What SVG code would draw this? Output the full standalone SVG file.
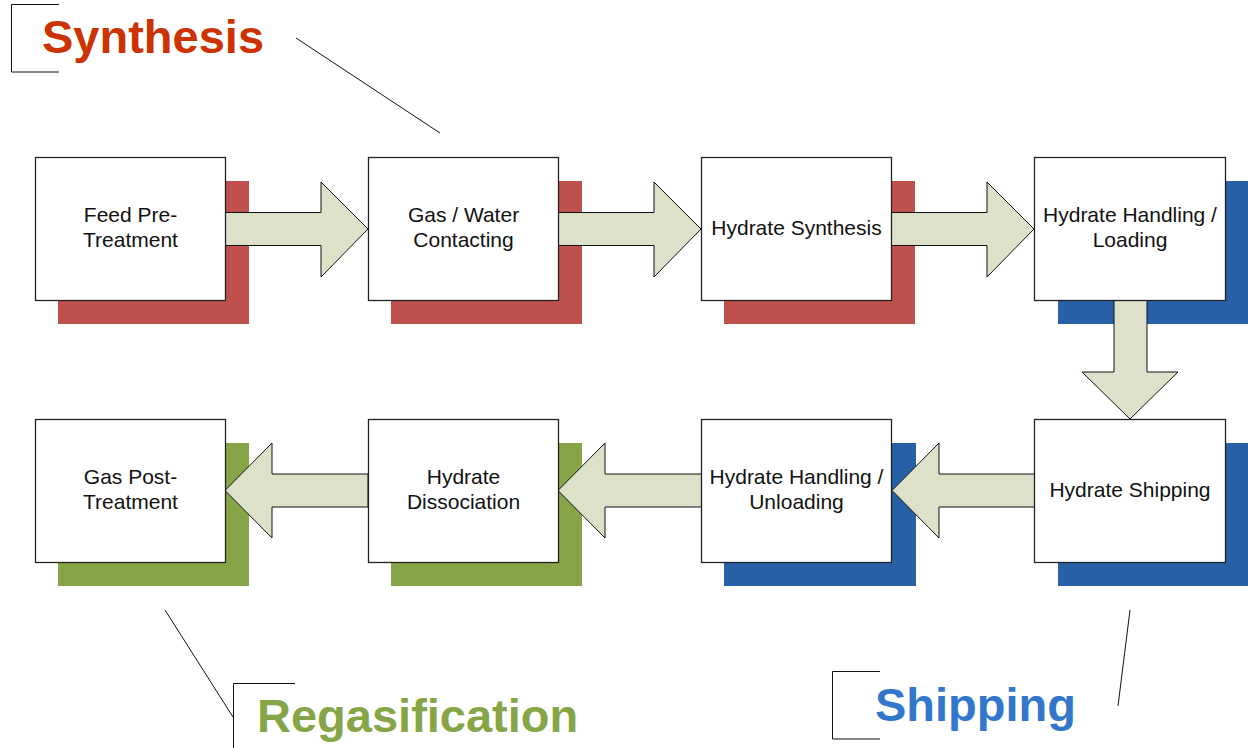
<svg xmlns="http://www.w3.org/2000/svg" width="1248" height="748" viewBox="0 0 1248 748">
<style>
.box{fill:#fff;stroke:#222;stroke-width:1.3}
.arr{fill:#DDE1CA;stroke:#111;stroke-width:1}
.red{fill:#C0504D}.blue{fill:#2860A8}.green{fill:#86A546}
.t{font-family:"Liberation Sans",Arial,sans-serif;font-size:21px;fill:#111;text-anchor:middle}
.h{font-family:"Liberation Sans",Arial,sans-serif;font-size:47px;font-weight:bold}
.ln{stroke:#111;stroke-width:1;fill:none}
</style>
<rect width="1248" height="748" fill="#fff"/>
<g id="shadows">
<rect class="red" x="58" y="181" width="191" height="143"/>
<rect class="red" x="391" y="181" width="191" height="143"/>
<rect class="red" x="724" y="181" width="191" height="143"/>
<rect class="blue" x="1058" y="181" width="191" height="143"/>
<rect class="green" x="58" y="443" width="191" height="143"/>
<rect class="green" x="391" y="443" width="191" height="143"/>
<rect class="blue" x="724" y="443" width="192" height="143"/>
<rect class="blue" x="1058" y="443" width="191" height="143"/>
</g>
<g id="connectors">
<polygon class="arr" points="225,212.5 321,212.5 321,182 368,229 321,277 321,245.5 225,245.5"/>
<polygon class="arr" points="558,212.5 654,212.5 654,182 701,229 654,277 654,245.5 558,245.5"/>
<polygon class="arr" points="891,212.5 987,212.5 987,182 1034,229 987,277 987,245.5 891,245.5"/>
<polygon class="arr" points="1114,300 1147,300 1147,372 1178,372 1130,419 1082,372 1114,372"/>
<polygon class="arr" points="1035,474 939,474 939,443 892,490.5 939,538 939,507 1035,507"/>
<polygon class="arr" points="702,474 605,474 605,443 558,490.5 605,538 605,507 702,507"/>
<polygon class="arr" points="368,474 272,474 272,443 225,490.5 272,538 272,507 368,507"/>
</g>
<g id="n1"><rect class="box" x="35.5" y="157.5" width="190" height="143"/><text class="t" x="130.5" y="222">Feed Pre-</text><text class="t" x="130.5" y="247">Treatment</text></g>
<g id="n2"><rect class="box" x="368.5" y="157.5" width="190" height="143"/><text class="t" x="463.5" y="222">Gas / Water</text><text class="t" x="463.5" y="247">Contacting</text></g>
<g id="n3"><rect class="box" x="701.5" y="157.5" width="190" height="143"/><text class="t" x="796.5" y="235">Hydrate Synthesis</text></g>
<g id="n4"><rect class="box" x="1034.5" y="157.5" width="191" height="143"/><text class="t" x="1130" y="222">Hydrate Handling /</text><text class="t" x="1130" y="247">Loading</text></g>
<g id="n5"><rect class="box" x="1034.5" y="419.5" width="191" height="143"/><text class="t" x="1130" y="497">Hydrate Shipping</text></g>
<g id="n6"><rect class="box" x="701.5" y="419.5" width="190" height="143"/><text class="t" x="796.5" y="484">Hydrate Handling /</text><text class="t" x="796.5" y="509">Unloading</text></g>
<g id="n7"><rect class="box" x="368.5" y="419.5" width="190" height="143"/><text class="t" x="463.5" y="484">Hydrate</text><text class="t" x="463.5" y="509">Dissociation</text></g>
<g id="n8"><rect class="box" x="35.5" y="419.5" width="190" height="143"/><text class="t" x="130.5" y="484">Gas Post-</text><text class="t" x="130.5" y="509">Treatment</text></g>
<g id="callout-synthesis">
<path class="ln" d="M59,4.5 H11.5 V72 H59"/>
<line class="ln" x1="296" y1="38" x2="440" y2="133"/>
<text class="h" x="42" y="53" fill="#CC3300">Synthesis</text>
</g>
<g id="callout-shipping">
<path class="ln" d="M880,671.5 H832.5 V739 H880"/>
<line class="ln" x1="1130" y1="610" x2="1118" y2="706"/>
<text class="h" x="875" y="721" fill="#3377CC">Shipping</text>
</g>
<g id="callout-regasification">
<path class="ln" d="M295,683.5 H233.5 V748"/>
<line class="ln" x1="165" y1="610" x2="233" y2="717"/>
<text class="h" x="257" y="732" fill="#86A546">Regasification</text>
</g>
</svg>
